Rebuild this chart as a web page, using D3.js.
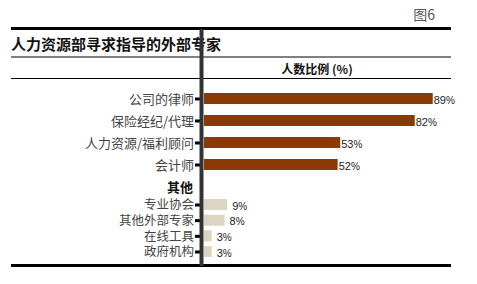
<!DOCTYPE html>
<html lang="zh">
  <head>
    <meta charset="UTF-8" />
    <title>图6</title>
    <style>
      body { margin: 0; background: #fff; }
      svg { display: block; }
      .cat text { font-family: "Noto Sans CJK SC", sans-serif; font-size: 13px; fill: #444; }
      .cat.other text { font-size: 12.5px; }
      .cat line { stroke: #000; stroke-width: 3px; }
      .val { font-family: "Liberation Sans", Arial, sans-serif; font-size: 11px; fill: #222; }
    </style>
  </head>
  <body>
    <svg></svg>
    <script src="https://cdnjs.cloudflare.com/ajax/libs/d3/7.8.5/d3.min.js"></script>
    <script>
      const mainCats = ["公司的律师", "保险经纪/代理", "人力资源/福利顾问", "会计师"];
      const mainVals = [89, 82, 53, 52];
      const otherCats = ["专业协会", "其他外部专家", "在线工具", "政府机构"];
      const otherVals = [9, 8, 3, 3];

      const width = 477, height = 284;
      const svg = d3.select("svg").attr("width", width).attr("height", height);

      const x = d3.scaleLinear().domain([0, 100]).range([204, 461]);
      const yMain = d3.scalePoint().domain(mainCats).range([98.5, 164.5]);
      const yOther = d3.scalePoint().domain(otherCats).range([204.5, 251.5]);

      // figure number
      svg.append("text").attr("x", 435).attr("y", 20).attr("text-anchor", "end")
        .style("font-family", "Noto Sans CJK SC, sans-serif").style("font-size", "14px")
        .style("fill", "#555").text("图6");

      // frame lines
      svg.append("line").attr("x1", 11).attr("x2", 451).attr("y1", 28.5).attr("y2", 28.5)
        .attr("stroke", "#000").attr("stroke-width", 3);
      svg.append("line").attr("x1", 11).attr("x2", 451).attr("y1", 57).attr("y2", 57)
        .attr("stroke", "#000").attr("stroke-width", 1);
      svg.append("line").attr("x1", 11).attr("x2", 451).attr("y1", 78.5).attr("y2", 78.5)
        .attr("stroke", "#000").attr("stroke-width", 1);
      svg.append("line").attr("x1", 11).attr("x2", 451).attr("y1", 265.5).attr("y2", 265.5)
        .attr("stroke", "#000").attr("stroke-width", 3);

      svg.append("text").attr("x", 11).attr("y", 50)
        .style("font-family", "Noto Sans CJK SC, sans-serif").style("font-size", "15px")
        .style("font-weight", "bold").style("fill", "#111").text("人力资源部寻求指导的外部专家");

      svg.append("text").attr("x", 317).attr("y", 74).attr("text-anchor", "middle")
        .style("font-family", "Noto Sans CJK SC, sans-serif").style("font-size", "12px")
        .style("font-weight", "bold").style("fill", "#111").text("人数比例 (%)");

      svg.append("text").attr("x", 193).attr("y", 192).attr("text-anchor", "end")
        .style("font-family", "Noto Sans CJK SC, sans-serif").style("font-size", "13px")
        .style("font-weight", "bold").style("fill", "#111").text("其他");

      // bars
      const mainH = 11, otherH = 11;
      svg.selectAll(".bm").data(mainCats).enter().append("rect")
        .attr("x", x(0)).attr("y", d => yMain(d) - mainH / 2)
        .attr("width", (d, i) => x(mainVals[i]) - x(0)).attr("height", mainH)
        .attr("fill", "#8B3A06");
      svg.selectAll(".bo").data(otherCats).enter().append("rect")
        .attr("x", x(0)).attr("y", d => yOther(d) - otherH / 2)
        .attr("width", (d, i) => x(otherVals[i]) - x(0)).attr("height", otherH)
        .attr("fill", "#DDD5C1");

      // value labels
      function addVal(t, v) {
        t.append("tspan").text(v);
        t.append("tspan").style("font-size", "10px").text("%");
      }
      svg.selectAll(".vm").data(mainCats).enter().append("text").attr("class", "val")
        .attr("x", (d, i) => x(mainVals[i]) + 1).attr("y", d => yMain(d) + 5)
        .each(function (d, i) { addVal(d3.select(this), mainVals[i]); });
      svg.selectAll(".vo").data(otherCats).enter().append("text").attr("class", "val")
        .attr("x", (d, i) => x(otherVals[i]) + 5).attr("y", d => yOther(d) + 5)
        .each(function (d, i) { addVal(d3.select(this), otherVals[i]); });

      // category axes
      const axMain = d3.axisLeft(yMain).tickSize(6).tickPadding(1);
      const axOther = d3.axisLeft(yOther).tickSize(6).tickPadding(1);
      svg.append("g").attr("class", "cat").attr("transform", "translate(201,0)").call(axMain)
        .call(g => g.select(".domain").remove());
      svg.append("g").attr("class", "cat other").attr("transform", "translate(201,0)").call(axOther)
        .call(g => g.select(".domain").remove());
      svg.selectAll(".cat text").attr("dy", "0.35em");

      // vertical axis bar
      svg.append("line").attr("x1", 201.5).attr("x2", 201.5).attr("y1", 29).attr("y2", 266)
        .attr("stroke", "#333").attr("stroke-width", 4);
    </script>
  </body>
</html>
